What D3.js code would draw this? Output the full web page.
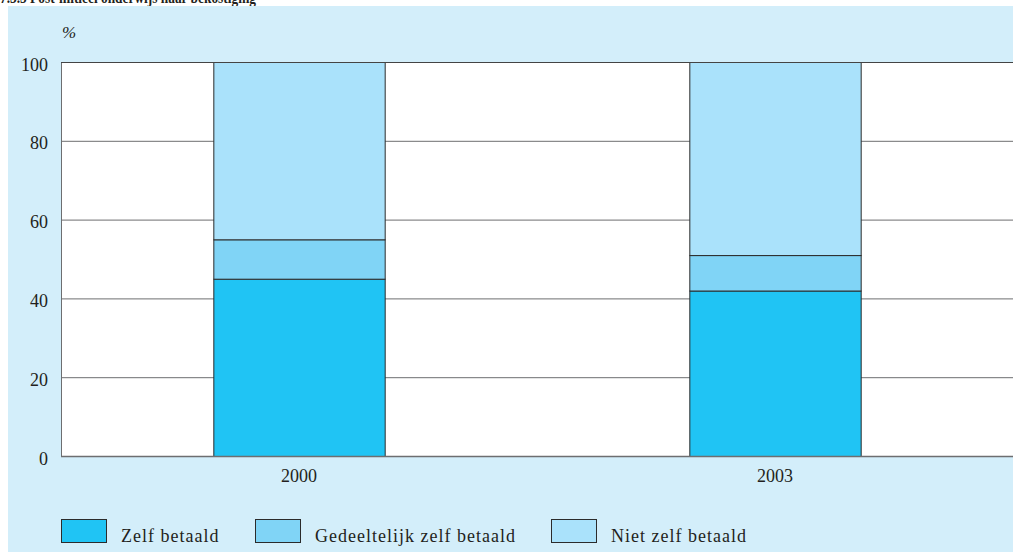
<!DOCTYPE html>
<html><head><meta charset="utf-8">
<script src="https://cdn.jsdelivr.net/npm/d3@7"></script>
<style>body{margin:0;background:#fff}svg{display:block}text{font-family:"Liberation Serif","DejaVu Serif",serif;fill:#231f20}</style>
</head><body>
<svg id="c" width="1013" height="552"></svg>
<script>
const title = "7.3.5 Post-initieel onderwijs naar bekostiging";
const categories = ["2000", "2003"];
const seriesNames = ["Zelf betaald", "Gedeeltelijk zelf betaald", "Niet zelf betaald"];
const zelf = [45, 42];
const gedeeltelijk = [10, 9];
const niet = [45, 49];
const yTicks = [0, 20, 40, 60, 80, 100];
const colors = ["#20c4f4", "#80d4f6", "#aae2fb"];

const svg = d3.select("#c");
svg.append("text").attr("x", 0).attr("y", 3).attr("font-size", 16).attr("font-weight", "bold")
  .attr("textLength", 256).attr("lengthAdjust", "spacingAndGlyphs").text(title);
svg.append("rect").attr("x", 8).attr("y", 6).attr("width", 1005).attr("height", 546).attr("fill", "#d3eefa");

const L = 61, R = 1013, T = 62, B = 456;
const x = d3.scaleBand().domain(categories).range([L, R]).paddingInner(0.64).paddingOuter(0.32);
const y = d3.scaleLinear().domain([0, 100]).range([B, T]);

svg.append("rect").attr("x", L).attr("y", T).attr("width", R - L).attr("height", B - T).attr("fill", "#fff");

// gridlines
svg.append("g").selectAll("line").data(yTicks).join("line")
  .attr("x1", L).attr("x2", R).attr("y1", d => y(d) + 0.5).attr("y2", d => y(d) + 0.5)
  .attr("stroke", "#6d6e70").attr("stroke-width", 1);

const data = categories.map((c, i) => ({cat: c, vals: [zelf[i], gedeeltelijk[i], niet[i]]}));
const stack = d3.stack().keys([0, 1, 2]).value((d, k) => d.vals[k]);
const layers = stack(data);
svg.append("g").selectAll("g").data(layers).join("g")
  .attr("fill", (d, i) => colors[i])
  .selectAll("rect").data(d => d).join("rect")
  .attr("x", d => x(d.data.cat) + 0.5)
  .attr("width", x.bandwidth())
  .attr("y", d => y(d[1]) + 0.5)
  .attr("height", d => y(d[0]) - y(d[1]))
  .attr("stroke", "#2b2b2b").attr("stroke-width", 1);

// axes frame
svg.append("line").attr("x1", L + 0.5).attr("x2", L + 0.5).attr("y1", T).attr("y2", B + 1).attr("stroke", "#6d6e70");
svg.append("line").attr("x1", L).attr("x2", R).attr("y1", T + 0.5).attr("y2", T + 0.5).attr("stroke", "#444");
svg.append("line").attr("x1", L).attr("x2", R).attr("y1", B + 0.5).attr("y2", B + 0.5).attr("stroke", "#6d6e70").attr("stroke-width", 1.5);

// y labels
const yAxis = d3.axisLeft(y).tickValues(yTicks).tickSize(0).tickPadding(13);
const ya = svg.append("g").attr("transform", `translate(${L},0)`).call(yAxis);
ya.select(".domain").remove();
ya.selectAll("text").attr("font-size", 18).attr("font-family", "Liberation Serif").attr("fill", "#231f20").attr("dy", "0.45em");

const xAxis = d3.axisBottom(x).tickSize(0).tickPadding(13);
const xa = svg.append("g").attr("transform", `translate(0,${B})`).call(xAxis);
xa.select(".domain").remove();
xa.selectAll("text").attr("font-size", 18).attr("font-family", "Liberation Serif").attr("fill", "#231f20");

svg.append("text").attr("x", 62).attr("y", 38).attr("font-size", 17).attr("font-style", "italic").text("%");

// legend
const legX = [61, 255, 551];
const lg = svg.append("g").selectAll("g").data(seriesNames).join("g")
  .attr("transform", (d, i) => `translate(${legX[i]},519)`);
lg.append("rect").attr("x", 0.5).attr("y", 0.5).attr("width", 45).attr("height", 23)
  .attr("fill", (d, i) => colors[i]).attr("stroke", "#2b2b2b");
lg.append("text").attr("x", 60).attr("y", 23).attr("font-size", 18).attr("letter-spacing", 1).text(d => d);
</script>
</body></html>
